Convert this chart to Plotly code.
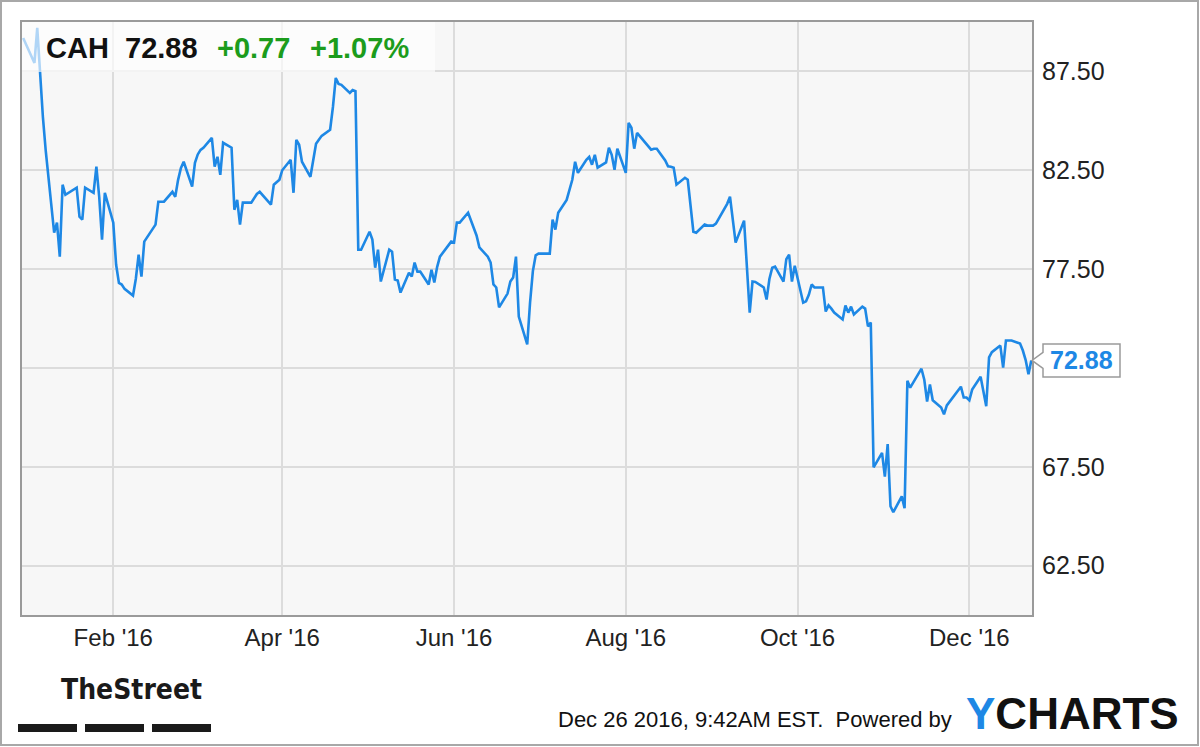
import plotly.graph_objects as go

# ---------------- data ----------------
dates = [
    "2015-12-31", "2016-01-04", "2016-01-05", "2016-01-06", "2016-01-07", "2016-01-08",
    "2016-01-11", "2016-01-12", "2016-01-13", "2016-01-14", "2016-01-15",
    "2016-01-19", "2016-01-20", "2016-01-21", "2016-01-22",
    "2016-01-25", "2016-01-26", "2016-01-27", "2016-01-28", "2016-01-29",
    "2016-02-01", "2016-02-02", "2016-02-03", "2016-02-04", "2016-02-05",
    "2016-02-08", "2016-02-09", "2016-02-10", "2016-02-11", "2016-02-12",
    "2016-02-16", "2016-02-17", "2016-02-18", "2016-02-19",
    "2016-02-22", "2016-02-23", "2016-02-24", "2016-02-25", "2016-02-26",
    "2016-02-29", "2016-03-01", "2016-03-02", "2016-03-03", "2016-03-04",
    "2016-03-07", "2016-03-08", "2016-03-09", "2016-03-10", "2016-03-11",
    "2016-03-14", "2016-03-15", "2016-03-16", "2016-03-17", "2016-03-18",
    "2016-03-21", "2016-03-22", "2016-03-23", "2016-03-24",
    "2016-03-28", "2016-03-29", "2016-03-30", "2016-03-31", "2016-04-01",
    "2016-04-04", "2016-04-05", "2016-04-06", "2016-04-07", "2016-04-08",
    "2016-04-11", "2016-04-12", "2016-04-13", "2016-04-14", "2016-04-15",
    "2016-04-18", "2016-04-19", "2016-04-20", "2016-04-21", "2016-04-22",
    "2016-04-25", "2016-04-26", "2016-04-27", "2016-04-28", "2016-04-29",
    "2016-05-02", "2016-05-03", "2016-05-04", "2016-05-05", "2016-05-06",
    "2016-05-09", "2016-05-10", "2016-05-11", "2016-05-12", "2016-05-13",
    "2016-05-16", "2016-05-17", "2016-05-18", "2016-05-19", "2016-05-20",
    "2016-05-23", "2016-05-24", "2016-05-25", "2016-05-26", "2016-05-27",
    "2016-05-31", "2016-06-01", "2016-06-02", "2016-06-03",
    "2016-06-06", "2016-06-07", "2016-06-08", "2016-06-09", "2016-06-10",
    "2016-06-13", "2016-06-14", "2016-06-15", "2016-06-16", "2016-06-17",
    "2016-06-20", "2016-06-21", "2016-06-22", "2016-06-23", "2016-06-24",
    "2016-06-27", "2016-06-28", "2016-06-29", "2016-06-30", "2016-07-01",
    "2016-07-05", "2016-07-06", "2016-07-07", "2016-07-08",
    "2016-07-11", "2016-07-12", "2016-07-13", "2016-07-14", "2016-07-15",
    "2016-07-18", "2016-07-19", "2016-07-20", "2016-07-21", "2016-07-22",
    "2016-07-25", "2016-07-26", "2016-07-27", "2016-07-28", "2016-07-29",
    "2016-08-01", "2016-08-02", "2016-08-03", "2016-08-04", "2016-08-05",
    "2016-08-08", "2016-08-09", "2016-08-10", "2016-08-11", "2016-08-12",
    "2016-08-15", "2016-08-16", "2016-08-17", "2016-08-18", "2016-08-19",
    "2016-08-22", "2016-08-23", "2016-08-24", "2016-08-25", "2016-08-26",
    "2016-08-29", "2016-08-30", "2016-08-31", "2016-09-01", "2016-09-02",
    "2016-09-06", "2016-09-07", "2016-09-08", "2016-09-09",
    "2016-09-12", "2016-09-13", "2016-09-14", "2016-09-15", "2016-09-16",
    "2016-09-19", "2016-09-20", "2016-09-21", "2016-09-22", "2016-09-23",
    "2016-09-26", "2016-09-27", "2016-09-28", "2016-09-29", "2016-09-30",
    "2016-10-03", "2016-10-04", "2016-10-05", "2016-10-06", "2016-10-07",
    "2016-10-10", "2016-10-11", "2016-10-12", "2016-10-13", "2016-10-14",
    "2016-10-17", "2016-10-18", "2016-10-19", "2016-10-20", "2016-10-21",
    "2016-10-24", "2016-10-25", "2016-10-26", "2016-10-27", "2016-10-28",
    "2016-10-31", "2016-11-01", "2016-11-02", "2016-11-03", "2016-11-04",
    "2016-11-07", "2016-11-08", "2016-11-09", "2016-11-10", "2016-11-11",
    "2016-11-14", "2016-11-15", "2016-11-16", "2016-11-17", "2016-11-18",
    "2016-11-21", "2016-11-22", "2016-11-23", "2016-11-25",
    "2016-11-28", "2016-11-29", "2016-11-30", "2016-12-01", "2016-12-02",
    "2016-12-05", "2016-12-06", "2016-12-07", "2016-12-08", "2016-12-09",
    "2016-12-12", "2016-12-13", "2016-12-14", "2016-12-15", "2016-12-16",
    "2016-12-19", "2016-12-20", "2016-12-21", "2016-12-22", "2016-12-23",
]

prices = [
    89.19, 87.93, 89.70, 87.17, 85.20, 83.50,
    79.34, 79.85, 78.13, 81.77, 81.26,
    81.62, 80.15, 80.00, 81.62,
    81.36, 82.68, 81.16, 78.99, 81.36,
    79.85, 77.73, 76.80, 76.72, 76.50,
    76.16, 77.00, 78.23, 77.12, 78.89,
    79.75, 80.91, 80.90, 80.91,
    81.41, 81.16, 82.00, 82.60, 82.93,
    81.67, 82.88, 83.30, 83.53, 83.64,
    84.14, 82.68, 83.18, 82.27, 83.89,
    83.64, 80.50, 81.00, 79.75, 80.86,
    80.86, 81.10, 81.30, 81.41,
    80.76, 81.77, 81.90, 82.02, 82.50,
    83.03, 81.36, 84.04, 83.79, 82.93,
    82.17, 83.00, 83.84, 84.04, 84.24,
    84.55, 85.70, 87.17, 86.87, 86.82,
    86.41, 86.56, 86.50, 78.48, 78.48,
    79.39, 78.99, 77.57, 78.48, 76.87,
    78.48, 78.38, 76.97, 76.92, 76.31,
    77.32, 77.12, 77.83, 77.37, 77.37,
    76.72, 77.47, 76.82, 77.60, 78.13,
    78.89, 78.84, 79.85, 79.85,
    80.35, 80.00, 79.60, 79.20, 78.60,
    78.13, 77.83, 76.72, 76.57, 75.56,
    76.26, 76.87, 77.07, 78.13, 75.10,
    73.69, 75.80, 77.40, 78.20, 78.28,
    78.28, 80.00, 79.50, 80.35,
    81.00, 81.50, 82.02, 82.93, 82.37,
    83.03, 83.18, 82.78, 83.28, 82.63,
    82.90, 83.64, 83.28, 82.52, 83.59,
    82.37, 84.90, 84.65, 83.59, 84.39,
    83.89, 83.70, 83.54, 83.59, 83.59,
    83.00, 82.70, 82.68, 82.63, 81.77,
    82.12, 82.02, 80.80, 79.39, 79.34,
    79.75, 79.70, 79.70, 79.70, 79.80,
    80.80, 81.16, 80.00, 78.84,
    79.95, 77.50, 75.30, 76.87, 76.85,
    76.57, 75.96, 77.00, 77.57, 77.62,
    76.87, 78.00, 78.23, 76.87, 77.67,
    75.80, 75.87, 76.20, 76.72, 76.57,
    76.57, 75.35, 75.66, 75.50, 75.30,
    74.95, 75.66, 75.30, 75.60, 75.20,
    75.60, 75.50, 74.60, 74.80, 67.47,
    68.20, 67.00, 68.65, 65.50, 65.20,
    66.00, 65.40, 71.85, 71.50, 71.75,
    72.46, 71.90, 70.80, 71.66, 70.86,
    70.50, 70.15, 70.60, 71.00,
    71.55, 71.00, 71.00, 70.86, 71.40,
    72.05, 71.20, 70.56, 73.03, 73.30,
    73.63, 72.52, 73.89, 73.89, 73.89,
    73.73, 73.38, 72.90, 72.18, 72.88,
]

x_tick_vals = ["2016-02-01", "2016-04-01", "2016-06-01", "2016-08-01", "2016-10-01", "2016-12-01"]
x_tick_text = ["Feb '16", "Apr '16", "Jun '16", "Aug '16", "Oct '16", "Dec '16"]
y_tick_vals = [62.5, 67.5, 72.5, 77.5, 82.5, 87.5]
y_tick_text = ["62.50", "67.50", "", "77.50", "82.50", "87.50"]

ticker = "CAH"
last_price = "72.88"
change = "+0.77"
change_pct = "+1.07%"
timestamp = "Dec 26 2016, 9:42AM EST.  Powered by"

# ---------------- layout geometry ----------------
W, H = 1200, 747
L, R, T, B = 22, 168, 22, 132
PW, PH = W - L - R, H - T - B
Y0, Y1 = 60, 90

def px(x):
    return (x - L) / PW

def py(y):
    return (H - B - y) / PH

FONT = "Liberation Sans, Arial, sans-serif"
BLUE = "#1e88e5"
GREEN = "#1c9c1c"

fig = go.Figure()
fig.add_trace(go.Scatter(
    x=dates, y=prices, mode="lines",
    line=dict(color=BLUE, width=2.6),
    hoverinfo="skip", showlegend=False,
))

shapes = []
annotations = []

# semi-transparent quote header box
shapes.append(dict(type="rect", xref="paper", yref="paper",
                   x0=0, x1=px(435), y0=py(72), y1=1,
                   fillcolor="rgba(255,255,255,0.65)", line=dict(width=0), layer="above"))

hdr_y = py(48)
for txt, xl, col in [(ticker, 44, "#111111"), (last_price, 123, "#111111"),
                     (change, 215, GREEN), (change_pct, 308, GREEN)]:
    annotations.append(dict(text="<b>%s</b>" % txt, xref="paper", yref="paper",
                            x=px(xl), y=hdr_y, xanchor="left", yanchor="middle",
                            showarrow=False, font=dict(family=FONT, size=29, color=col)))

# last-value tag on the right axis
yv = (prices[-1] - Y0) / (Y1 - Y0)
hh = 16.5 / PH
nh = 8.0 / PH
bx0, bx1, tip = px(1043), px(1120), px(1032)
path = ("M {a},{t} L {b},{t} L {b},{bt} L {a},{bt} L {a},{n1} L {tp},{c} L {a},{n2} Z"
        .format(a=bx0, b=bx1, t=yv + hh, bt=yv - hh, n1=yv - nh, n2=yv + nh, tp=tip, c=yv))
shapes.append(dict(type="path", xref="paper", yref="paper", path=path,
                   fillcolor="white", line=dict(color="#9a9a9a", width=1.5), layer="above"))
annotations.append(dict(text="<b>%s</b>" % last_price, xref="paper", yref="paper",
                        x=(bx0 + bx1) / 2, y=yv, xanchor="center", yanchor="middle",
                        showarrow=False, font=dict(family=FONT, size=25, color=BLUE)))

# TheStreet logo
annotations.append(dict(text="<b>TheStreet</b>", xref="paper", yref="paper",
                        x=px(131), y=py(689), xanchor="center", yanchor="middle",
                        showarrow=False,
                        font=dict(family="Liberation Sans Narrow, DejaVu Sans Condensed, Liberation Sans, sans-serif",
                                  size=28, color="#1a1a1a")))
for a, b in [(18, 77), (85, 144), (152, 211)]:
    shapes.append(dict(type="rect", xref="paper", yref="paper",
                       x0=px(a), x1=px(b), y0=py(732), y1=py(724),
                       fillcolor="#1a1a1a", line=dict(width=0)))

# footer text
annotations.append(dict(text=timestamp, xref="paper", yref="paper",
                        x=px(556), y=py(719), xanchor="left", yanchor="middle",
                        showarrow=False, font=dict(family=FONT, size=22, color="#111111")))
annotations.append(dict(text="<b><span style='color:%s'>Y</span>CHARTS</b>" % BLUE,
                        xref="paper", yref="paper",
                        x=px(964), y=py(713), xanchor="left", yanchor="middle",
                        showarrow=False, font=dict(family=FONT, size=44, color="#111111")))

# outer frame of the picture
shapes.append(dict(type="rect", xref="paper", yref="paper",
                   x0=px(1), x1=px(1198), y0=py(745), y1=py(1),
                   fillcolor="rgba(0,0,0,0)", line=dict(color="#a8a8a8", width=2)))

fig.update_layout(
    width=W, height=H,
    margin=dict(l=L, r=R, t=T, b=B, pad=0),
    paper_bgcolor="white", plot_bgcolor="#f7f7f7",
    font=dict(family=FONT, color="#222222"),
    shapes=shapes, annotations=annotations,
    showlegend=False,
    xaxis=dict(type="date", range=["2015-12-30 14:00", "2016-12-23 06:00"],
               tickmode="array", tickvals=x_tick_vals, ticktext=x_tick_text,
               showgrid=True, gridcolor="#dcdcdc", gridwidth=2,
               showline=True, linecolor="#9a9a9a", linewidth=2, mirror=True,
               ticks="", ticklabelstandoff=0, zeroline=False,
               tickfont=dict(family=FONT, size=24, color="#222222")),
    yaxis=dict(range=[Y0, Y1], side="right",
               tickmode="array", tickvals=y_tick_vals, ticktext=y_tick_text,
               showgrid=True, gridcolor="#dcdcdc", gridwidth=2,
               showline=True, linecolor="#9a9a9a", linewidth=2, mirror=True,
               ticks="", ticklabelstandoff=3, zeroline=False,
               tickfont=dict(family=FONT, size=25, color="#222222")),
)

fig.write_html("out.html", config={"displayModeBar": False},
               post_script="document.body.style.margin='0px';document.body.style.overflow='hidden';")
